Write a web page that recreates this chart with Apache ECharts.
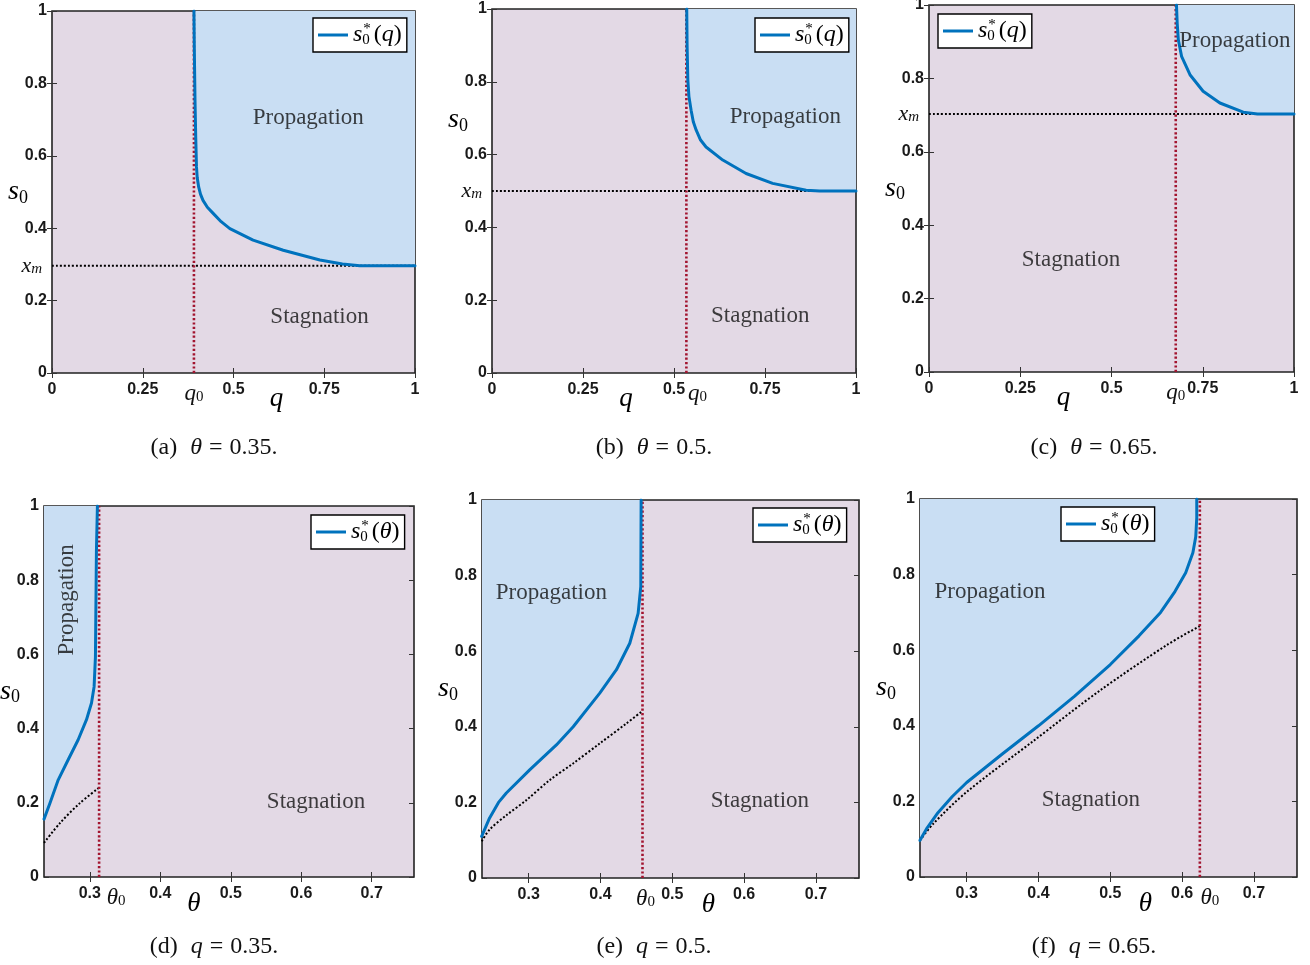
<!DOCTYPE html>
<html>
<head>
<meta charset="utf-8">
<script src="https://cdn.jsdelivr.net/npm/echarts@6/dist/echarts.min.js"></script>
<style>
  html, body { margin: 0; padding: 0; background: #fff; }
  #chart { width: 1310px; height: 965px; }
</style>
</head>
<body>
<div id="chart"></div>
<script>
// top row: threshold s0*(q) at fixed theta
const thetaA = 0.35, thetaB = 0.5, thetaC = 0.65
const q0A = 0.391, q0B = 0.534, q0C = 0.676
const xmA = 0.296, xmB = 0.5, xmC = 0.703

const curveAq = [0.391, 0.392, 0.394, 0.396, 0.398, 0.400, 0.404, 0.409, 0.416, 0.428, 0.444, 0.466, 0.490, 0.554, 0.637, 0.738, 0.800, 0.848, 1.0]
const curveAs = [1.0, 0.90, 0.75, 0.65, 0.570, 0.540, 0.514, 0.494, 0.477, 0.458, 0.441, 0.418, 0.399, 0.367, 0.339, 0.312, 0.301, 0.296, 0.296]
const curveBq = [0.535, 0.536, 0.538, 0.541, 0.547, 0.553, 0.561, 0.573, 0.588, 0.634, 0.698, 0.771, 0.863, 0.900, 1.0]
const curveBs = [1.0, 0.90, 0.805, 0.760, 0.722, 0.690, 0.667, 0.640, 0.621, 0.585, 0.548, 0.521, 0.502, 0.500, 0.500]
const curveCq = [0.678, 0.680, 0.683, 0.692, 0.715, 0.751, 0.797, 0.861, 0.900, 1.0]
const curveCs = [1.0, 0.95, 0.906, 0.860, 0.810, 0.765, 0.733, 0.708, 0.703, 0.703]

// bottom row: threshold s0*(theta) at fixed q
const qD = 0.35, qE = 0.5, qF = 0.65
const th0D = 0.3132, th0E = 0.4585, th0F = 0.6247

const curveDt = [0.235, 0.2434, 0.2552, 0.2693, 0.2835, 0.2953, 0.3024, 0.3061, 0.3080, 0.3094, 0.3108]
const curveDs = [0.156, 0.199, 0.262, 0.316, 0.370, 0.424, 0.469, 0.513, 0.594, 0.881, 1.0]
const dotDt = [0.235, 0.2575, 0.2858, 0.3132]
const dotDs = [0.092, 0.145, 0.199, 0.241]

const curveEt = [0.2345, 0.2456, 0.2580, 0.2689, 0.3014, 0.3386, 0.3620, 0.3990, 0.4222, 0.4408, 0.4524, 0.4561, 0.4566]
const curveEs = [0.110, 0.159, 0.200, 0.225, 0.286, 0.352, 0.400, 0.489, 0.551, 0.621, 0.700, 0.771, 1.0]
const dotEt = [0.2345, 0.2456, 0.2689, 0.2968, 0.3293, 0.3618, 0.3990, 0.4362, 0.4585]
const dotEs = [0.097, 0.128, 0.166, 0.206, 0.259, 0.303, 0.356, 0.409, 0.442]

const curveFt = [0.235, 0.245, 0.26, 0.28, 0.30, 0.35, 0.40, 0.45, 0.50, 0.54, 0.57, 0.59, 0.605, 0.615, 0.619, 0.6204, 0.6204]
const curveFs = [0.097, 0.13, 0.17, 0.213, 0.250, 0.326, 0.400, 0.478, 0.562, 0.638, 0.70, 0.755, 0.805, 0.858, 0.90, 0.95, 1.0]
const dotFt = [0.235, 0.2535, 0.30, 0.393, 0.486, 0.579, 0.6247]
const dotFs = [0.097, 0.141, 0.225, 0.360, 0.494, 0.614, 0.664]

const qTicks = [0, 0.25, 0.5, 0.75, 1]
const thetaTicks = [0.3, 0.4, 0.5, 0.6, 0.7]
const sTicks = [0, 0.2, 0.4, 0.6, 0.8, 1]

const PINK = '#e3d9e5'
const FILL = '#c9def3'
const BLUE = '#0072bd'
const RED = '#a2142f'
const SERIF = 'Liberation Serif'
const SANS = 'Liberation Sans'

const zip = (xs, ys) => xs.map((x, i) => [x, ys[i]])

const panels = [
  { key: 'a', box: [52, 11, 363, 362], range: [0, 1], ticks: qTicks, sym: 'q', x0: q0A, x0Shift: 0, xm: xmA,
    curve: zip(curveAq, curveAs), dot: [[0, xmA], [1, xmA]], tag: '(a)', par: 'θ', val: thetaA, cap: [214, 448],
    legend: [313, 18], xNameShift: 43, yNameUp: 0, prop: [0.706, 0.704], stag: [0.737, 0.155] },
  { key: 'b', box: [492, 9, 364, 364], range: [0, 1], ticks: qTicks, sym: 'q', x0: q0B, x0Shift: 11, xm: xmB,
    curve: zip(curveBq, curveBs), dot: [[0, xmB], [1, xmB]], tag: '(b)', par: 'θ', val: thetaB, cap: [654, 448],
    legend: [755, 18], xNameShift: -48, yNameUp: 71, prop: [0.806, 0.704], stag: [0.737, 0.156] },
  { key: 'c', box: [929, 5, 365, 367], range: [0, 1], ticks: qTicks, sym: 'q', x0: q0C, x0Shift: 0, xm: xmC,
    curve: zip(curveCq, curveCs), dot: [[0, xmC], [1, xmC]], tag: '(c)', par: 'θ', val: thetaC, cap: [1094, 448],
    legend: [938, 14], xNameShift: -48, yNameUp: 0, prop: [0.838, 0.901], stag: [0.389, 0.304] },
  { key: 'd', box: [44, 506, 370, 371], range: [0.235, 0.76], ticks: thetaTicks, sym: 'θ', x0: th0D, x0Shift: 17, xm: null,
    curve: zip(curveDt, curveDs), dot: zip(dotDt, dotDs), tag: '(d)', par: 'q', val: qD, cap: [214, 947],
    legend: [311, 515], xNameShift: -35, yNameUp: 0, prop: [0.267, 0.747], propRotate: 90, stag: [0.621, 0.202] },
  { key: 'e', box: [482, 500, 377, 378], range: [0.235, 0.76], ticks: thetaTicks, sym: 'θ', x0: th0E, x0Shift: 3, xm: null,
    curve: zip(curveEt, curveEs), dot: zip(dotEt, dotEs), tag: '(e)', par: 'q', val: qE, cap: [654, 947],
    legend: [753, 508], xNameShift: 38, yNameUp: 0, prop: [0.3316, 0.753], stag: [0.622, 0.204] },
  { key: 'f', box: [920, 499, 377, 378], range: [0.235, 0.76], ticks: thetaTicks, sym: 'θ', x0: th0F, x0Shift: 10, xm: null,
    curve: zip(curveFt, curveFs), dot: zip(dotFt, dotFs), tag: '(f)', par: 'q', val: qF, cap: [1094, 947],
    legend: [1061, 507], xNameShift: 37, yNameUp: 0, prop: [0.3325, 0.755], stag: [0.473, 0.205] }
]

const grids = [], xAxes = [], yAxes = [], series = [], legends = [], titles = []
const tickStyle = { inside: true, length: 5, lineStyle: { color: '#333', width: 1 } }

panels.forEach((p, i) => {
  grids.push({
    left: p.box[0], top: p.box[1], width: p.box[2], height: p.box[3],
    show: true, backgroundColor: PINK, borderColor: '#222', borderWidth: 1.6,
    containLabel: false, outerBoundsMode: 'none'
  })

  const sh = p.xNameShift
  xAxes.push({
    type: 'value', gridIndex: i, position: 'bottom', min: p.range[0], max: p.range[1],
    axisLine: { show: false }, splitLine: { show: false },
    axisTick: Object.assign({ customValues: p.ticks }, tickStyle),
    axisLabel: {
      customValues: p.ticks.concat([p.x0]), margin: 9,
      fontFamily: SANS, fontWeight: 'bold', fontSize: 16, color: '#1a1a1a',
      formatter: v => Math.abs(v - p.x0) < 1e-9 ? '{it|' + p.sym + '}{sub|0}' : String(v),
      rich: {
        it: { fontFamily: SERIF, fontStyle: 'italic', fontWeight: 'normal', fontSize: 23, color: '#111',
              padding: [0, 0, 0, 2 * p.x0Shift] },
        sub: { fontFamily: SERIF, fontWeight: 'normal', fontSize: 15, color: '#111', verticalAlign: 'bottom' }
      }
    },
    name: '{it|' + p.sym + '}', nameLocation: 'middle', nameGap: p.sym === 'q' ? 12 : 13, nameMoveOverlap: false,
    nameTextStyle: {
      padding: sh > 0 ? [0, 0, 0, 2 * sh] : [0, -2 * sh, 0, 0],
      rich: { it: { fontFamily: SERIF, fontStyle: 'italic', fontSize: 27, color: '#000' } }
    }
  })
  xAxes.push({
    type: 'value', gridIndex: i, position: 'top', min: p.range[0], max: p.range[1],
    axisLine: { show: false }, splitLine: { show: false }, axisLabel: { show: false },
    axisTick: Object.assign({ customValues: p.ticks }, tickStyle)
  })

  const yLabels = p.xm == null ? sTicks : sTicks.concat([p.xm])
  yAxes.push({
    type: 'value', gridIndex: i, position: 'left', min: 0, max: 1,
    axisLine: { show: false }, splitLine: { show: false },
    axisTick: Object.assign({ customValues: sTicks }, tickStyle),
    axisLabel: {
      customValues: yLabels, margin: 5,
      fontFamily: SANS, fontWeight: 'bold', fontSize: 16, color: '#1a1a1a',
      formatter: v => (p.xm != null && Math.abs(v - p.xm) < 1e-9) ? '{it|x}{sub|m}' : String(v),
      rich: {
        it: { fontFamily: SERIF, fontStyle: 'italic', fontWeight: 'normal', fontSize: 22, color: '#111' },
        sub: { fontFamily: SERIF, fontStyle: 'italic', fontWeight: 'normal', fontSize: 15, color: '#111',
               verticalAlign: 'bottom', padding: [0, 5, 0, 0] }
      }
    },
    name: '{it|s}{sub|0}', nameLocation: 'middle', nameRotate: 0, nameGap: 24, nameMoveOverlap: false,
    nameTextStyle: {
      padding: [0, 0, 2 * p.yNameUp, 0],
      rich: {
        it: { fontFamily: SERIF, fontStyle: 'italic', fontSize: 28, color: '#000', lineHeight: 30 },
        sub: { fontFamily: SERIF, fontSize: 18, color: '#000', verticalAlign: 'bottom', lineHeight: 24 }
      }
    }
  })
  yAxes.push({
    type: 'value', gridIndex: i, position: 'right', min: 0, max: 1,
    axisLine: { show: false }, splitLine: { show: false }, axisLabel: { show: false },
    axisTick: Object.assign({ customValues: sTicks }, tickStyle)
  })

  const xi = 2 * i, yi = 2 * i
  // propagation region: between the threshold curve and s0 = 1
  series.push({
    name: p.key + '-region', type: 'line', xAxisIndex: xi, yAxisIndex: yi, data: p.curve,
    showSymbol: false, silent: true, z: 1,
    lineStyle: { width: 0, opacity: 0 },
    areaStyle: { color: FILL, opacity: 1, origin: 'end' }
  })
  series.push({
    name: p.key + '-dot', type: 'line', xAxisIndex: xi, yAxisIndex: yi, data: p.dot,
    showSymbol: false, silent: true, z: 2, smooth: 0.3,
    lineStyle: { color: '#000', width: 2, type: [2, 2] }
  })
  series.push({
    name: p.key + '-x0', type: 'line', xAxisIndex: xi, yAxisIndex: yi, data: [[p.x0, 0], [p.x0, 1]],
    showSymbol: false, silent: true, z: 3,
    lineStyle: { color: RED, width: 2.6, type: [2.2, 2.2] }
  })
  series.push({
    name: p.key, type: 'line', xAxisIndex: xi, yAxisIndex: yi, data: p.curve,
    showSymbol: false, silent: true, z: 4, color: BLUE,
    lineStyle: { color: BLUE, width: 3, join: 'round', cap: 'round' }
  })
  series.push({
    name: p.key + '-text', type: 'scatter', xAxisIndex: xi, yAxisIndex: yi, symbolSize: 0, silent: true, z: 5,
    label: { show: true, position: 'inside', formatter: '{b}', fontFamily: SERIF, fontSize: 23, color: '#111' },
    data: [
      { name: 'Propagation', value: p.prop, label: { rotate: p.propRotate || 0 } },
      { name: 'Stagnation', value: p.stag }
    ]
  })

  legends.push({
    data: [{ name: p.key, icon: 'rect' }],
    left: p.legend[0], top: p.legend[1], itemWidth: 30, itemHeight: 3, itemGap: 0,
    padding: [4, 5, 4, 5], backgroundColor: '#fff', borderColor: '#000', borderWidth: 1.4, borderRadius: 0,
    selectedMode: false,
    formatter: () => '{it|s}{sub|0}{sup|*}{p|(}{it|' + p.sym + '}{p|)}',
    textStyle: {
      rich: {
        it: { fontFamily: SERIF, fontStyle: 'italic', fontSize: 24, color: '#000', lineHeight: 26 },
        sub: { fontFamily: SERIF, fontSize: 15, color: '#000', verticalAlign: 'bottom', width: 0, lineHeight: 20 },
        sup: { fontFamily: SERIF, fontSize: 15, color: '#000', verticalAlign: 'top', padding: [0, 3, 0, 1], lineHeight: 20 },
        p: { fontFamily: SERIF, fontSize: 24, color: '#000', lineHeight: 26 }
      }
    }
  })

  titles.push({
    text: p.tag + '{it|' + p.par + '}{eq|=}' + p.val + '.',
    left: p.cap[0], top: p.cap[1], textAlign: 'center', textVerticalAlign: 'middle', padding: 0,
    textStyle: {
      fontFamily: SERIF, fontSize: 24, fontWeight: 'normal', color: '#111',
      rich: {
        it: { fontFamily: SERIF, fontStyle: 'italic', fontSize: 24, color: '#111', padding: [0, 0, 0, 13] },
        eq: { fontFamily: SERIF, fontSize: 24, color: '#111', padding: [0, 7, 0, 7] }
      }
    }
  })
})

const chart = echarts.init(document.getElementById('chart'), null, { renderer: 'canvas' })
chart.setOption({
  backgroundColor: '#fff',
  animation: false,
  title: titles,
  legend: legends,
  grid: grids,
  xAxis: xAxes,
  yAxis: yAxes,
  series: series
})
</script>
</body>
</html>
